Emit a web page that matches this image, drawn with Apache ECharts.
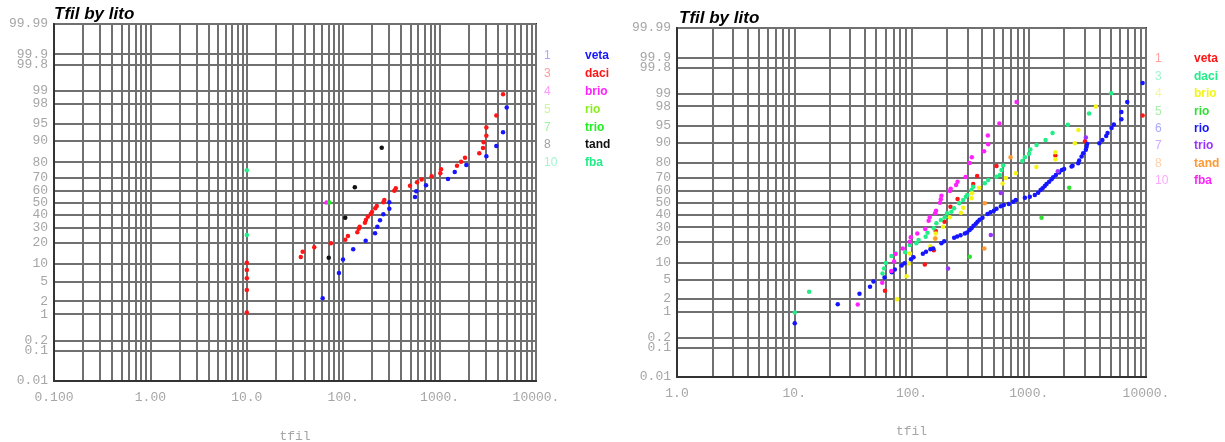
<!DOCTYPE html>
<html><head><meta charset="utf-8">
<script src="https://cdn.jsdelivr.net/npm/echarts@6/dist/echarts.min.js"></script>
<style>html,body{margin:0;padding:0;background:#fff}#c{width:1225px;height:442px}</style>
</head><body><div id="c"></div>
<script>
// ---------- tick labels ----------
const probTicks = [0.01,0.1,0.2,1,2,5,10,20,30,40,50,60,70,80,90,95,98,99,99.8,99.9,99.99];
const probLabels = ['0.01','0.1','0.2','1','2','5','10','20','30','40','50','60','70','80','90','95','98','99','99.8','99.9','99.99'];
const leftDecades = [0.1,1,10,100,1000,10000];
const leftXLabels = ['0.100','1.00','10.0','100.','1000.','10000.'];
const rightDecades = [1,10,100,1000,10000];
const rightXLabels = ['1.0','10.','100.','1000.','10000.'];

// ---------- legend ----------
const leftLegNums = ['1','3','4','5','7','8','10'];
const leftLegNames = ['veta','daci','brio','rio','trio','tand','fba'];
const rightLegNums = ['1','3','4','5','6','7','8','10'];
const rightLegNames = ['veta','daci','brio','rio','rio','trio','tand','fba'];

// ---------- data: [tfil, cumulative %] ----------
const L_veta = [[61.2,2.3],[90.3,7.1],[99.5,11.8],[127,16.5],[171,21.3],[214,26.1],[226,30.7],[241,35.5],[261,40.3],[301,44.9],[301,50.2],[556,54.6],[573,59.2],[723,64.0],[1222,68.8],[1436,73.7],[1893,78.3],[3055,83.2],[3875,88.0],[4550,92.8],[4970,97.6]];
const L_daci = [[10,1.1],[10,3.4],[10,5.7],[10,8.0],[10,10.5],[36.3,12.8],[38.0,15.3],[50.1,17.5],[74.6,19.8],[105,21.9],[112,24.3],[140,26.7],[145,29.3],[148,30.7],[168,33.7],[172,35.8],[180,38.4],[193,40.5],[199,42.2],[215,45.2],[223,47.1],[261,50.2],[267,52.1],[339,59.7],[351,61.6],[493,63.7],[583,66.3],[652,68.5],[828,70.7],[1017,72.9],[1035,75.5],[1515,77.8],[1670,80.2],[1835,82.5],[2580,84.7],[2820,87.2],[2865,89.5],[3055,91.8],[3055,94.1],[3875,96.5],[4550,98.8]];
const L_brio = [[67.1,50]];
const L_rio = [];
const L_trio = [[71.8,50]];
const L_tand = [[70.8,12.5],[105,37.6],[132,62.4],[251,87.3]];
const L_fba = [[10,24.9],[10,74.9]];

const R_veta = [[59.4,3.0],[130,9.3],[155,15.5],[161,27.2],[191,34.1],[215,46.4],[247,53.0],[336,65.4],[363,71.4],[531,78.2],[1687,84.2],[3020,90.4],[9354,96.8]];
const R_daci = [[10.1,0.95],[13.4,2.85],[56.6,6.5],[58.4,8.0],[60.4,9.9],[67.5,12.7],[73.5,13.9],[88.2,14.4],[96.8,18.2],[110,19.2],[115,21.2],[132,23.3],[137,25.9],[155,29.1],[163,32.9],[178,35.4],[192,37.6],[201,40.9],[219,42.2],[231,45.1],[255,49.3],[276,52.1],[291,54.9],[298,56.4],[325,60.5],[336,63.2],[422,65.9],[451,68.4],[531,70.9],[567,72.1],[586,75.6],[605,78.5],[882,81.2],[927,83.3],[1007,85.0],[1032,87.1],[1166,89.0],[1391,90.9],[1596,93.1],[2158,95.1],[3270,97.1],[5047,99.0]];
const R_brio = [[75.4,1.97],[90.8,5.83],[94.8,9.7],[96.8,13.8],[145,17.6],[158,22.2],[161,25.5],[186,30.3],[212,37.6],[264,41.4],[276,45.6],[325,53.6],[329,57.8],[377,62.4],[598,65.8],[638,69.9],[776,73.3],[1161,77.6],[1687,82.2],[1687,85.8],[2473,89.7],[2651,93.9],[3738,97.96]];
const R_rio5 = [[314,12.4],[1285,37.3],[2213,62.4]];
const R_rio6 = [[10.1,0.50],[23.5,1.51],[36.0,2.58],[44.3,3.61],[47.4,4.61],[58.9,5.51],[67.9,6.89],[72.1,7.69],[82.4,9.0],[87.3,9.8],[99,11.3],[104,12.2],[125,13.7],[133,14.7],[145,15.9],[153,16.4],[180,19.2],[190,20.4],[231,22.6],[245,23.5],[262,24.2],[285,25.5],[298,26.2],[313,27.9],[325,29.1],[338,31.0],[354,32.5],[366,34.1],[381,35.7],[403,37.3],[445,40.3],[472,41.7],[504,43.1],[531,44.7],[578,46.8],[613,47.9],[676,48.7],[736,50.7],[776,52.1],[927,54.1],[1021,54.9],[1127,56.4],[1203,58.3],[1262,60.5],[1312,61.9],[1371,63.8],[1419,65.4],[1493,67.1],[1566,68.9],[1615,70.5],[1703,72.1],[1817,73.8],[1916,75.6],[2004,76.3],[2318,77.8],[2366,78.4],[2639,79.9],[2692,81.4],[2823,83.6],[2913,85.3],[3069,86.9],[3113,88.3],[3149,89.4],[4002,89.7],[4246,90.9],[4576,92.2],[4700,93.1],[5085,94.4],[5320,95.2],[6166,96.2],[6166,97.3],[6918,98.4],[9354,99.46]];
const R_trio = [[205,8.0],[475,24.4],[578,58.0],[1771,74.7],[3069,91.7]];
const R_tand = [[160,22.1],[418,16.4],[422,49.3],[700,83.2]];
const R_fba = [[34.8,1.48],[56.3,4.38],[67.2,7.19],[71.1,10.4],[72.8,13.6],[84.3,16.4],[96.8,20.1],[98.6,22.9],[112,25.5],[131,28.6],[140,34.9],[143,37.6],[159,40.9],[162,43.1],[175,49.8],[178,52.7],[180,55.8],[213,59.7],[216,61.6],[240,64.6],[247,67.1],[289,70.7],[313,80.0],[327,83.3],[416,86.3],[451,89.3],[448,92.3],[561,95.4],[787,98.4]];

// ---------- colours ----------
const leftColors = ['#1515ff','#ff1515','#ff22ff','#88ee22','#22ee22','#111111','#22ee88'];
const leftNumColors = ['#a8a8ff','#ff9a9a','#ff9aff','#ccf5a0','#a0f5a0','#a0a0a0','#a0f5d0'];
const rightColors = ['#ff1515','#22ee88','#f5f515','#33dd33','#1515ff','#9933ff','#ff9933','#ff22ff'];
const rightNumColors = ['#ffa0a0','#a0f5d0','#f5f5a0','#a8eea8','#a8a8ff','#d0a8ff','#ffd0a8','#ffa8ff'];

const leftData = [L_veta,L_daci,L_brio,L_rio,L_trio,L_tand,L_fba];
const rightData = [R_veta,R_daci,R_brio,R_rio5,R_rio6,R_trio,R_tand,R_fba];

// inverse normal CDF (probability-paper scale)
function probit(p){
  const a=[-3.969683028665376e+01,2.209460984245205e+02,-2.759285104469687e+02,1.383577518672690e+02,-3.066479806614716e+01,2.506628277459239e+00];
  const b=[-5.447609879822406e+01,1.615858368580409e+02,-1.556989798598866e+02,6.680131188771972e+01,-1.328068155288572e+01];
  const c=[-7.784894002430293e-03,-3.223964580411365e-01,-2.400758277161838e+00,-2.549732539343734e+00,4.374664141464968e+00,2.938163982698783e+00];
  const d=[7.784695709041462e-03,3.224671290700398e-01,2.445134137142996e+00,3.754408661907416e+00];
  const pl=0.02425, ph=1-pl; let q,r;
  if(p<pl){q=Math.sqrt(-2*Math.log(p));return (((((c[0]*q+c[1])*q+c[2])*q+c[3])*q+c[4])*q+c[5])/((((d[0]*q+d[1])*q+d[2])*q+d[3])*q+1);}
  if(p<=ph){q=p-0.5;r=q*q;return (((((a[0]*r+a[1])*r+a[2])*r+a[3])*r+a[4])*r+a[5])*q/(((((b[0]*r+b[1])*r+b[2])*r+b[3])*r+b[4])*r+1);}
  q=Math.sqrt(-2*Math.log(1-p));return -(((((c[0]*q+c[1])*q+c[2])*q+c[3])*q+c[4])*q+c[5])/((((d[0]*q+d[1])*q+d[2])*q+d[3])*q+1);
}
const zTicks = probTicks.map(p=>probit(p/100));
const zMin = zTicks[0], zMax = zTicks[zTicks.length-1];
function nearestLabel(v, vals, labels){
  let bi=0, bd=Infinity;
  vals.forEach((t,i)=>{const dd=Math.abs(t-v); if(dd<bd){bd=dd;bi=i;}});
  return bd<1e-4 ? labels[bi] : '';
}
function minorGrid(decades){
  const out=[];
  decades.forEach((d,i)=>{
    if(i===decades.length-1){out.push(Math.log10(d));return;}
    for(let m=1;m<=9;m++) out.push(Math.log10(d*m));
  });
  return out;
}

const GRID_COLOR = '#707070';
const LABEL_FONT = {color:'#a6a6a6', fontFamily:'Liberation Mono', fontSize:13};

function makeX(idx, decades, labels){
  const major = decades.map(d=>Math.log10(d));
  return {
    gridIndex: idx, type:'value', min: major[0], max: major[major.length-1],
    name:'tfil', nameLocation:'middle', nameGap: idx===0?49:48,
    nameTextStyle:{color:'#a6a6a6', fontFamily:'Liberation Mono', fontSize:13},
    axisLine:{show:true, onZero:false, lineStyle:{color:'#333', width:2}},
    axisTick:{show:false, customValues: minorGrid(decades)},
    axisLabel:Object.assign({customValues: major, margin: 10,
      formatter: v=>nearestLabel(v, major, labels)}, LABEL_FONT),
    splitLine:{show:true, lineStyle:{color:GRID_COLOR, width:2}}
  };
}
function makeY(idx){
  return {
    gridIndex: idx, type:'value', min: zMin, max: zMax,
    axisLine:{show:true, onZero:false, lineStyle:{color:'#333', width:2}},
    axisTick:{show:false, customValues: zTicks},
    axisLabel:Object.assign({customValues: zTicks, margin: 6,
      formatter: v=>nearestLabel(v, zTicks, probLabels)}, LABEL_FONT),
    splitLine:{show:true, lineStyle:{color:GRID_COLOR, width:2}}
  };
}

const series = [];
leftData.forEach((arr,i)=>{
  series.push({type:'scatter', name:'L'+leftLegNums[i]+' '+leftLegNames[i], xAxisIndex:0, yAxisIndex:0,
    symbol:'circle', symbolSize:4.5, itemStyle:{color:leftColors[i], opacity:1}, silent:true,
    data: arr.map(([t,p])=>[Math.log10(t), probit(p/100)])});
});
rightData.forEach((arr,i)=>{
  series.push({type:'scatter', name:'R'+rightLegNums[i]+' '+rightLegNames[i], xAxisIndex:1, yAxisIndex:1,
    symbol:'circle', symbolSize:4.5, itemStyle:{color:rightColors[i], opacity:1}, silent:true,
    data: arr.map(([t,p])=>[Math.log10(t), probit(p/100)])});
});

const graphics = [];
function legendBlock(nums, names, numColors, colors, xNum, xName, y0, step){
  nums.forEach((n,i)=>{
    graphics.push({type:'text', left:xNum, top:y0+i*step-7, silent:true,
      style:{text:n, fill:numColors[i], font:'12px "Liberation Sans"'}});
    graphics.push({type:'text', left:xName, top:y0+i*step-7, silent:true,
      style:{text:names[i], fill:colors[i], font:'bold 12px "Liberation Sans"'}});
  });
}
legendBlock(leftLegNums, leftLegNames, leftNumColors, leftColors, 544, 585, 57, 17.8);
legendBlock(rightLegNums, rightLegNames, rightNumColors, rightColors, 1155, 1194, 60, 17.4);

const chart = echarts.init(document.getElementById('c'), null, {renderer:'canvas'});
chart.setOption({
  animation:false,
  backgroundColor:'#fff',
  title:[
    {text:'Tfil by lito', left:54, top:6, padding:0, textStyle:{color:'#000', fontStyle:'italic', fontWeight:'bold', fontSize:17, fontFamily:'Liberation Sans'}},
    {text:'Tfil by lito', left:679, top:10, padding:0, textStyle:{color:'#000', fontStyle:'italic', fontWeight:'bold', fontSize:17, fontFamily:'Liberation Sans'}}
  ],
  grid:[
    {left:54, top:24, width:482, height:357, show:true, borderColor:'#333', borderWidth:2, containLabel:false, outerBoundsMode:'none'},
    {left:677, top:28, width:469, height:349, show:true, borderColor:'#333', borderWidth:2, containLabel:false, outerBoundsMode:'none'}
  ],
  xAxis:[makeX(0, leftDecades, leftXLabels), makeX(1, rightDecades, rightXLabels)],
  yAxis:[makeY(0), makeY(1)],
  series: series,
  graphic: graphics
});
</script>
</body></html>
